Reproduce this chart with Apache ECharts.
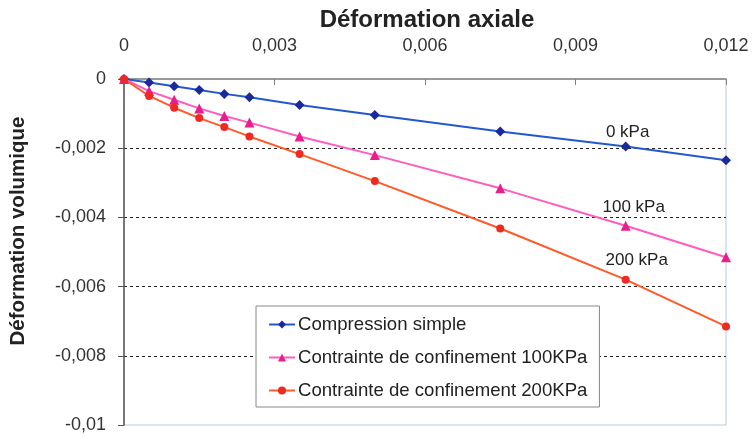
<!DOCTYPE html>
<html>
<head>
<meta charset="utf-8">
<script src="https://cdn.jsdelivr.net/npm/echarts@6/dist/echarts.min.js"></script>
<style>
  html, body { margin: 0; padding: 0; background: #fff; }
  #chart { width: 752px; height: 436px; }
</style>
</head>
<body>
<div id="chart"></div>
<script>
// déformation axiale (x) et volumique (y)
const axialStrain = [0, 0.0005, 0.001, 0.0015, 0.002, 0.0025, 0.0035, 0.005, 0.0075, 0.01, 0.012];
const volSimple = [0, -0.0001, -0.00021, -0.00032, -0.00043, -0.00053, -0.00075, -0.00104, -0.00152, -0.00195, -0.00235];
const vol100 = [0, -0.00035, -0.0006, -0.00085, -0.00107, -0.00126, -0.00166, -0.0022, -0.00316, -0.00424, -0.00515];
const vol200 = [0, -0.00049, -0.00083, -0.00113, -0.00139, -0.00166, -0.00217, -0.00295, -0.00432, -0.0058, -0.00715];
const seriesNames = ["Compression simple", "Contrainte de confinement 100KPa", "Contrainte de confinement 200KPa"];
const curveLabels = ["0 kPa", "100 kPa", "200 kPa"];
const labelIndex = 9;

const font = "Liberation Sans, Arial, sans-serif";
const comma = (v) => String(+v.toFixed(4)).replace(".", ",");

function makeSeries(name, values, label, labelOffset, lineColor, markColor, symbol, size) {
  return {
    name: name,
    type: "line",
    data: axialStrain.map((x, i) => {
      const pt = { value: [x, values[i]] };
      if (i === labelIndex) {
        pt.label = {
          show: true,
          position: "top",
          offset: labelOffset,
          formatter: label,
          color: "#222",
          fontSize: 17,
          fontFamily: font,
        };
      }
      return pt;
    }),
    symbol: symbol,
    symbolSize: size,
    showAllSymbol: true,
    lineStyle: { color: lineColor, width: 2 },
    itemStyle: { color: markColor },
    emphasis: { disabled: true },
    animation: false,
  };
}

const chart = echarts.init(document.getElementById("chart"));
chart.setOption({
  backgroundColor: "#fff",
  animation: false,
  title: {
    text: "Déformation axiale",
    left: 422,
    top: 3,
    textAlign: "center",
    textStyle: { fontSize: 24, fontWeight: "bold", color: "#222", fontFamily: font },
  },
  grid: {
    left: 122,
    top: 79,
    right: 26,
    bottom: 11,
    show: true,
    borderColor: "#b9c9d9",
    borderWidth: 1,
  },
  legend: {
    orient: "vertical",
    left: 256,
    top: 306,
    padding: [9, 12, 7, 12],
    itemGap: 14,
    itemWidth: 26,
    itemHeight: 10,
    backgroundColor: "#fff",
    borderColor: "#888",
    borderWidth: 1,
    borderRadius: 0,
    textStyle: { fontSize: 18.6, color: "#222", fontFamily: font, padding: [0, 0, 0, -2] },
    data: seriesNames,
  },
  xAxis: {
    type: "value",
    position: "top",
    min: 0,
    max: 0.012,
    interval: 0.003,
    axisLine: { onZero: false, lineStyle: { color: "#808080", width: 1.5 } },
    axisTick: { inside: true, length: 6, lineStyle: { color: "#808080" } },
    axisLabel: { margin: 24, fontSize: 18, color: "#333", fontFamily: font, formatter: comma },
    splitLine: { show: false },
  },
  yAxis: {
    type: "value",
    min: -0.01,
    max: 0,
    interval: 0.002,
    name: "Déformation volumique",
    nameLocation: "middle",
    nameGap: 95,
    nameTextStyle: { fontSize: 20.5, fontWeight: "bold", color: "#222", fontFamily: font, padding: [0, 0, 0, 42] },
    axisLine: { show: true, onZero: false, lineStyle: { color: "#555", width: 1.5 } },
    axisTick: { show: true, inside: false, length: 6, lineStyle: { color: "#555" } },
    axisLabel: { margin: 18, fontSize: 18, color: "#333", fontFamily: font, formatter: comma },
    splitLine: {
      show: true,
      lineStyle: {
        color: ["transparent", "#222", "#222", "#222", "#222", "transparent"],
        type: [3, 3],
        width: 1,
      },
    },
  },
  series: [
    makeSeries(seriesNames[0], volSimple, curveLabels[0], [2, 4], "#2458cc", "#1a2a9c", "diamond", 10),
    makeSeries(seriesNames[1], vol100, curveLabels[1], [8, 0], "#ff5cbf", "#e81e8c", "triangle", 10),
    makeSeries(seriesNames[2], vol200, curveLabels[2], [11, -2], "#ff5a28", "#ee2a22", "circle", 8),
  ],
});
</script>
</body>
</html>
